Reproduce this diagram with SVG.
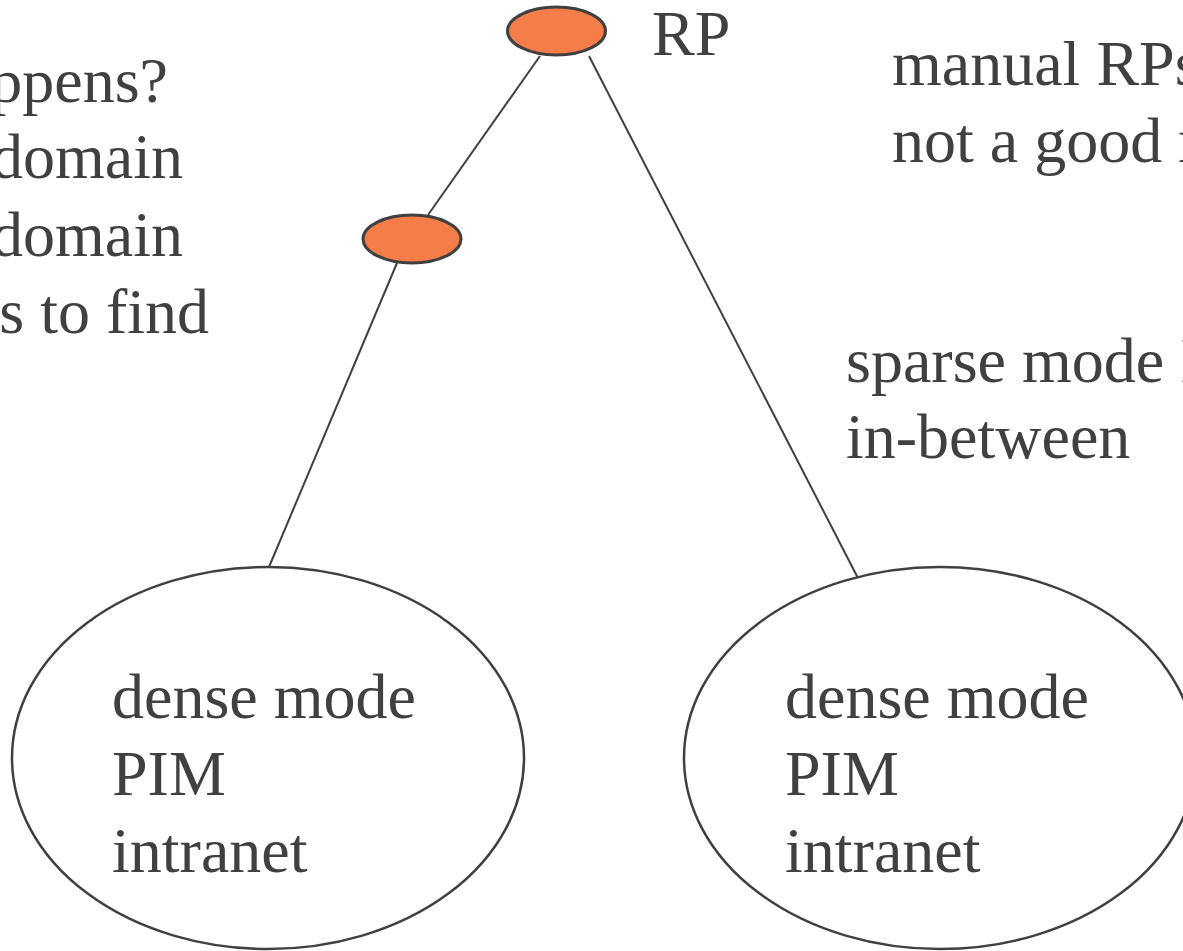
<svg xmlns="http://www.w3.org/2000/svg" width="1183" height="951" viewBox="0 0 1183 951">
<style>
text{font-family:"Liberation Serif","Times New Roman",serif;font-size:64px;fill:#404040}
.rp{fill:#F57D4A;stroke:#404040;stroke-width:3}
.dom{fill:#fff;stroke:#404040;stroke-width:2.5}
.ln{stroke:#404040;stroke-width:2;fill:none}
</style>
<rect width="1183" height="951" fill="#fff"/>
<g id="connectors">
<line class="ln" x1="540" y1="56" x2="428" y2="215"/>
<line class="ln" x1="397" y1="263" x2="269" y2="567"/>
<line class="ln" x1="589" y1="56" x2="860" y2="582"/>
</g>
<g id="rp">
<ellipse class="rp" cx="556.5" cy="31" rx="49" ry="24"/>
<text x="652" y="55">RP</text>
</g>
<g id="router">
<ellipse class="rp" cx="412" cy="239" rx="49" ry="24"/>
</g>
<g id="domain-left">
<ellipse class="dom" cx="268" cy="758" rx="256" ry="191"/>
<text x="112" y="718">dense mode</text>
<text x="112" y="795">PIM</text>
<text x="112" y="872">intranet</text>
</g>
<g id="domain-right">
<ellipse class="dom" cx="940" cy="758" rx="256" ry="191"/>
<text x="785" y="718">dense mode</text>
<text x="785" y="795">PIM</text>
<text x="785" y="872">intranet</text>
</g>
<g id="notes-left" text-anchor="end">
<text x="168" y="102">ppens?</text>
<text x="183" y="178">domain</text>
<text x="183" y="256">domain</text>
<text x="209" y="333">s to find</text>
</g>
<g id="notes-right">
<text x="892" y="85">manual RPs</text>
<text x="892" y="162">not a good r</text>
<text x="846" y="382">sparse mode I</text>
<text x="846" y="458">in-between</text>
</g>
</svg>
